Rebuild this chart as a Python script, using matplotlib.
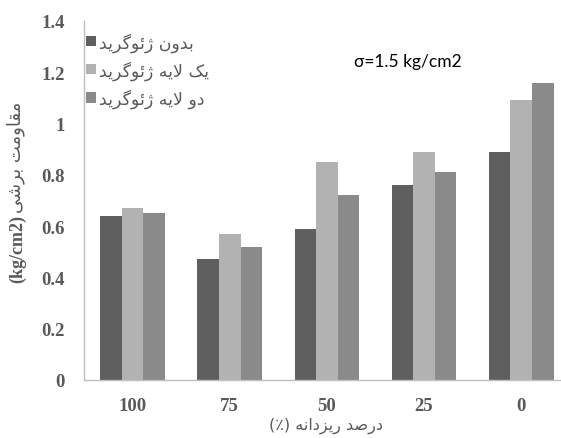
import matplotlib
matplotlib.use('Agg')
import matplotlib.pyplot as plt
import numpy as np

# داده ها
categories = ['100', '75', '50', '25', '0']
series_names = ['بدون ژئوگرید', 'یک لایه ژئوگرید', 'دو لایه ژئوگرید']
no_geogrid = [0.64, 0.47, 0.59, 0.76, 0.89]
one_layer = [0.67, 0.57, 0.85, 0.89, 1.09]
two_layer = [0.65, 0.52, 0.72, 0.81, 1.16]
y_ticks = [0, 0.2, 0.4, 0.6, 0.8, 1.0, 1.2, 1.4]
y_tick_labels = ['0', '0.2', '0.4', '0.6', '0.8', '1', '1.2', '1.4']
colors = ['#5f5f5f', '#b2b2b2', '#8a8a8a']

# matplotlib does not shape arabic text, so do it by hand:
# (isolated, final, initial, medial)
forms = {
    'ا': (0xFE8D, 0xFE8E, None, None),
    'ب': (0xFE8F, 0xFE90, 0xFE91, 0xFE92),
    'ت': (0xFE95, 0xFE96, 0xFE97, 0xFE98),
    'د': (0xFEA9, 0xFEAA, None, None),
    'ر': (0xFEAD, 0xFEAE, None, None),
    'ز': (0xFEAF, 0xFEB0, None, None),
    'ژ': (0xFB8A, 0xFB8B, None, None),
    'ش': (0xFEB5, 0xFEB6, 0xFEB7, 0xFEB8),
    'ص': (0xFEB9, 0xFEBA, 0xFEBB, 0xFEBC),
    'ق': (0xFED5, 0xFED6, 0xFED7, 0xFED8),
    'ک': (0xFB8E, 0xFB8F, 0xFB90, 0xFB91),
    'گ': (0xFB92, 0xFB93, 0xFB94, 0xFB95),
    'ل': (0xFEDD, 0xFEDE, 0xFEDF, 0xFEE0),
    'م': (0xFEE1, 0xFEE2, 0xFEE3, 0xFEE4),
    'ن': (0xFEE5, 0xFEE6, 0xFEE7, 0xFEE8),
    'ه': (0xFEE9, 0xFEEA, 0xFEEB, 0xFEEC),
    'و': (0xFEED, 0xFEEE, None, None),
    'ی': (0xFBFC, 0xFBFD, 0xFBFE, 0xFBFF),
    'ئ': (0xFE89, 0xFE8A, 0xFE8B, 0xFE8C),
    'ﻻ': (0xFEFB, 0xFEFC, None, None),
}


def shape(text):
    text = text.replace('لا', 'ﻻ')
    out = []
    for i, c in enumerate(text):
        if c not in forms:
            out.append(c)
            continue
        prev = text[i - 1] if i > 0 else ''
        nxt = text[i + 1] if i + 1 < len(text) else ''
        join_prev = prev in forms and forms[prev][2] is not None
        join_next = nxt in forms and forms[c][2] is not None
        iso, fin, ini, med = forms[c]
        if join_prev and join_next:
            out.append(chr(med))
        elif join_prev:
            out.append(chr(fin))
        elif join_next:
            out.append(chr(ini))
        else:
            out.append(chr(iso))
    # ترتیب نمایش راست به چپ
    return ''.join(out)[::-1]


fig = plt.figure(figsize=(5.61, 4.39), dpi=100)
ax = fig.add_axes([84 / 561, 1 - 381 / 439, 1 - 84 / 561, (381 - 22) / 439])

x = np.arange(len(categories))
w = 0.222
ax.bar(x - w, no_geogrid, w, color=colors[0], label=shape(series_names[0]))
ax.bar(x, one_layer, w, color=colors[1], label=shape(series_names[1]))
ax.bar(x + w, two_layer, w, color=colors[2], label=shape(series_names[2]))

ax.set_xlim(-0.5, 4.41)
ax.set_ylim(0, 1.4)
ax.set_xticks(x)
ax.set_xticklabels(categories)
ax.set_yticks(y_ticks)
ax.set_yticklabels(y_tick_labels)
for lab in ax.get_xticklabels() + ax.get_yticklabels():
    lab.set_family('Liberation Serif')
    lab.set_weight('bold')
    lab.set_fontsize(13.5)
    lab.set_color('#595959')
ax.tick_params(axis='both', length=0)
ax.tick_params(axis='y', pad=14)
ax.tick_params(axis='x', pad=12)

for s in ['top', 'right']:
    ax.spines[s].set_visible(False)
for s in ['left', 'bottom']:
    ax.spines[s].set_color('#bfbfbf')
    ax.spines[s].set_linewidth(1.0)

leg = ax.legend(loc='upper left', bbox_to_anchor=(86 / 561, 1 - 33 / 439),
                bbox_transform=fig.transFigure, frameon=False,
                prop={'family': 'DejaVu Sans', 'size': 12.5},
                handlelength=0.55, handleheight=0.55, handletextpad=0.2,
                labelspacing=0.5, borderaxespad=0, borderpad=0)
for t in leg.get_texts():
    t.set_color('#595959')

ax.text(354 / 561, 1 - 62 / 439, 'σ=1.5 kg/cm2', transform=fig.transFigure,
        family='Lato', fontsize=12.5, color='black', va='center', ha='left')

# عنوان محور ها
fig.text(326 / 561, 1 - 426 / 439, '(٪) ' + shape('درصد ریزدانه'),
         family='DejaVu Sans', fontsize=11.5, color='#595959', ha='center', va='center')
fig.text(18 / 561, 1 - 215 / 439, '(kg/cm2)', family='Liberation Serif', weight='bold',
         fontsize=13, color='#595959', rotation=90, ha='center', va='top')
fig.text(16 / 561, 1 - 213 / 439, shape('مقاومت برشی'), family='DejaVu Sans',
         fontsize=13, color='#595959', rotation=90, ha='center', va='bottom')

fig.savefig('out.png', dpi=100)
